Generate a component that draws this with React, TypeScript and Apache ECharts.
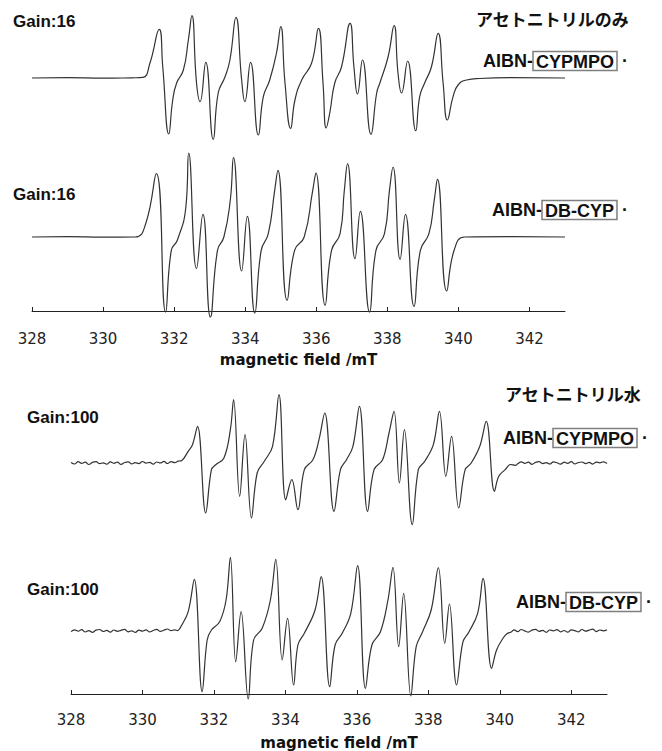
import { useEffect, useRef } from "react";
import * as echarts from "echarts";

// Field range (mT) and tick positions shared by both panels
const FIELD_MIN = 328;
const FIELD_MAX = 343;
const fieldTicks = [328, 330, 332, 334, 336, 338, 340, 342];
const axisTitle = "magnetic field /mT";

// EPR spectra: [magnetic field (mT), signal (arb. units)]
// AIBN-CYPMPO adduct in acetonitrile, gain 16
const cypmpoMeCN: [number, number][] = [
  [328.0, 0], [329.0, 0.3], [330.0, -0.2], [330.8, 0.2], [331.12, 0.6], [331.32, 15],
  [331.58, 48.7], [331.68, 11], [331.85, -56], [331.96, -22], [332.07, -5], [332.26, 8],
  [332.4, 38], [332.5, 62.3], [332.63, -5], [332.73, -23.7], [332.89, 15.7], [333.1, -61.3],
  [333.24, -15], [333.43, 1], [333.57, 18], [333.74, 60.7], [333.9, -2], [333.99, -23.7],
  [334.15, 15.7], [334.37, -57], [334.51, -18.7], [334.69, -2], [334.88, 25], [335.0, 51.3],
  [335.12, -5], [335.28, -50.3], [335.4, -22], [335.59, -2], [335.87, 15], [336.06, 49.7],
  [336.19, -5], [336.28, -50], [336.38, -35], [336.52, -5], [336.71, 11], [336.95, 54.7],
  [337.06, 11], [337.16, -16], [337.3, 18], [337.54, -56.3], [337.7, -15], [337.79, -5],
  [338.02, 21], [338.19, 52.3], [338.3, 5], [338.4, -15], [338.57, 17], [338.8, -52.7],
  [338.91, -18.7], [339.05, -5], [339.24, 11], [339.43, 44.7], [339.57, -5], [339.69, -42],
  [339.85, -18.7], [339.99, -7], [340.23, -2], [340.6, -0.5], [341.5, 0.3], [343.0, 0],
];

// AIBN-DB-CYP adduct in acetonitrile, gain 16
const dbcypMeCN: [number, number][] = [
  [328.0, 0], [329.0, 0.4], [330.0, -0.2], [330.9, 0], [331.2, 13.3], [331.5, 63.3],
  [331.76, -75], [331.92, -13.3], [332.09, -3.3], [332.33, 30], [332.41, 84], [332.63, -31.7],
  [332.81, 22.7], [333.02, -80], [333.22, -13.3], [333.4, 0], [333.58, 36.7], [333.67, 79.3],
  [333.9, -34], [334.06, 20.7], [334.27, -76], [334.45, -13.3], [334.65, 3.3], [334.83, 46.7],
  [334.92, 66.7], [335.18, -63.3], [335.39, -13.3], [335.66, 0], [335.9, 46.7], [335.99, 64],
  [336.25, -68.3], [336.43, -13.3], [336.67, 3.3], [336.79, 46.7], [336.88, 73.3], [337.09, -21.7],
  [337.24, 25.7], [337.5, -75], [337.68, -13.3], [337.92, 3.3], [338.06, 46.7], [338.16, 70],
  [338.36, -22.3], [338.51, 22.7], [338.75, -69.3], [338.93, -13.3], [339.17, 3.3], [339.32, 36.7],
  [339.41, 57.7], [339.67, -54], [339.88, -13.3], [340.18, 0], [341.5, 0.3], [343.0, 0],
];

// AIBN-CYPMPO adduct in acetonitrile / water, gain 100
const cypmpoAqMeCN: [number, number][] = [
  [328.0, 0.5], [328.1, -1.0], [328.2, 1.3], [328.3, -0.4], [328.4, 0.9], [328.5, -1.5],
  [328.6, 0.6], [328.7, 1.4], [328.8, -0.7], [328.9, 0.2], [329.0, -1.2], [329.1, 1.1],
  [329.2, -0.3], [329.3, 0.8], [329.4, -1.4], [329.5, 0.5], [329.6, 1.2], [329.7, -0.9],
  [329.8, 0.3], [329.9, -0.6], [330.0, 1.5], [330.1, -0.2], [330.2, 0.7], [330.3, -1.1],
  [330.4, 1.0], [330.5, 0.1], [330.6, 1.6], [330.7, -0.5], [330.8, 1.3], [330.9, 0.4],
  [331.0, 1.8], [331.1, 2.5], [331.28, 11.7], [331.4, 18.3], [331.54, 36.7], [331.77, -50],
  [331.93, -6.7], [332.05, -1.7], [332.28, 5], [332.46, 33.3], [332.55, 63.3], [332.72, -33.3],
  [332.87, 28.3], [333.05, -55], [333.21, -10], [333.41, 1.7], [333.64, 16.7], [333.82, 68.3],
  [334.01, -36.7], [334.18, -16.7], [334.35, -46.7], [334.53, -6.7], [334.77, 3.3], [334.94, 23.3],
  [335.1, 50], [335.36, -48.3], [335.54, -6.7], [335.71, 3.3], [335.89, 16.7], [336.07, 56.7],
  [336.3, -48.3], [336.48, -6.7], [336.72, 3.3], [336.9, 30], [337.04, 51.7], [337.19, -20],
  [337.33, 33.3], [337.55, -61.7], [337.72, -6.7], [337.9, 1.7], [338.14, 18.3], [338.31, 51.7],
  [338.49, -13.3], [338.65, 26.7], [338.85, -45], [339.03, -6.7], [339.2, 0], [339.44, 16.7],
  [339.62, 41.7], [339.85, -28.3], [339.97, -13.3], [340.15, -6.7], [340.3, -1.5], [340.44, -2.4],
  [340.5, -0.8], [340.6, 1.2], [340.7, -0.4], [340.8, 0.9], [340.9, -1.3], [341.0, 0.6],
  [341.1, 1.4], [341.2, -0.6], [341.3, 0.3], [341.4, -1.0], [341.5, 1.1], [341.6, 0.2],
  [341.7, -1.2], [341.8, 0.8], [341.9, -0.3], [342.0, 1.3], [342.1, -0.9], [342.2, 0.5],
  [342.3, 1.0], [342.4, -0.6], [342.5, 0.7], [342.6, -1.1], [342.7, 0.9], [342.8, 0.2],
  [342.9, 1.2], [343.0, -0.4],
];

// AIBN-DB-CYP adduct in acetonitrile / water, gain 100
const dbcypAqMeCN: [number, number][] = [
  [328.0, -0.6], [328.1, 1.1], [328.2, -0.2], [328.3, 1.4], [328.4, -1.0], [328.5, 0.4],
  [328.6, -1.3], [328.7, 0.9], [328.8, 1.5], [328.9, -0.5], [329.0, 0.6], [329.1, -1.2],
  [329.2, 1.0], [329.3, -0.3], [329.4, 0.7], [329.5, 1.6], [329.6, -0.8], [329.7, 0.2],
  [329.8, -1.4], [329.9, 0.9], [330.0, -0.1], [330.1, 1.2], [330.2, -0.9], [330.3, 0.5],
  [330.4, 1.7], [330.5, -0.4], [330.6, 0.8], [330.7, 2.0], [330.8, 0.3], [330.9, 1.1],
  [330.98, 0.4], [331.1, 6], [331.28, 19.3], [331.45, 51.7], [331.67, -60.7], [331.81, -9],
  [331.93, 1], [332.16, 9.3], [332.34, 31], [332.46, 73.7], [332.61, -30.7], [332.76, 19.3],
  [332.96, -68], [333.11, -9], [333.35, 2.7], [333.58, 31], [333.73, 71.7], [333.91, -29],
  [334.06, 12.7], [334.23, -54], [334.35, -14], [334.53, -2.3], [334.83, 21], [335.0, 54.3],
  [335.24, -55.7], [335.39, -14], [335.59, -2.3], [335.83, 17.7], [336.02, 65.3], [336.24, -57.3],
  [336.42, -14], [336.66, -0.7], [336.87, 31], [337.01, 63.7], [337.17, -15.7], [337.31, 37.7],
  [337.51, -65], [337.66, -15.7], [337.84, -0.7], [338.08, 21], [338.28, 63.3], [338.46, -12.3],
  [338.59, 27], [338.79, -54], [338.97, -10.7], [339.14, -0.7], [339.38, 17.7], [339.53, 52.7],
  [339.77, -37.3], [339.91, -19], [340.09, -7.3], [340.2, -2.8], [340.33, -0.7], [340.4, 1.2],
  [340.5, -0.6], [340.6, 1.5], [340.7, 0.1], [340.8, -1.1], [340.9, 0.9], [341.0, 1.6],
  [341.1, -0.4], [341.2, 0.7], [341.3, -1.3], [341.4, 1.0], [341.5, 0.2], [341.6, 1.4],
  [341.7, -0.8], [341.8, 0.5], [341.9, -1.2], [342.0, 1.1], [342.1, 0.3], [342.2, -0.9],
  [342.3, 1.5], [342.4, -0.2], [342.5, 0.8], [342.6, 1.8], [342.7, -0.6], [342.8, 1.0],
  [342.9, 0.2], [343.0, 1.3],
];

const LABEL_FONT = '"Liberation Sans", Arial, sans-serif';
const JP_FONT = '"Noto Sans CJK JP", sans-serif';
const TICK_FONT = '"DejaVu Sans", sans-serif';

const boxedLabel = (x: number, y: number, compound: string) => ({
  type: "text",
  x,
  y,
  style: {
    text: `AIBN-{b|${compound}} ·`,
    font: `bold 18px ${LABEL_FONT}`,
    fill: "#111",
    textVerticalAlign: "middle",
    rich: {
      b: {
        fontFamily: LABEL_FONT,
        fontWeight: "bold",
        fontSize: 18,
        fill: "#111",
        borderColor: "#7f7f7f",
        borderWidth: 1.5,
        padding: [1, 3, 0, 3],
      },
    },
  },
});

const plainLabel = (x: number, y: number, text: string, font: string) => ({
  type: "text",
  x,
  y,
  style: { text, font, fill: "#111", textVerticalAlign: "middle" },
});

function visibleAxis(gridIndex: number, nameGap: number) {
  return {
    type: "value",
    gridIndex,
    min: FIELD_MIN,
    max: FIELD_MAX,
    name: axisTitle,
    nameLocation: "middle",
    nameGap,
    nameTextStyle: { fontFamily: TICK_FONT, fontWeight: "bold", fontSize: 15, color: "#111" },
    axisLine: { show: true, lineStyle: { color: "#222", width: 1 } },
    axisTick: { show: true, inside: true, length: 4, customValues: fieldTicks, lineStyle: { color: "#222" } },
    axisLabel: { show: true, customValues: fieldTicks, fontFamily: TICK_FONT, fontSize: 15, color: "#222", margin: 10 },
    splitLine: { show: false },
  };
}

function hiddenAxis(gridIndex: number) {
  return { type: "value", gridIndex, min: FIELD_MIN, max: FIELD_MAX, show: false };
}

function hiddenY(gridIndex: number, range: number) {
  return { type: "value", gridIndex, min: -range, max: range, show: false };
}

function spectrum(data: [number, number][], axisIndex: number, smooth: number) {
  return {
    type: "line",
    data,
    xAxisIndex: axisIndex,
    yAxisIndex: axisIndex,
    showSymbol: false,
    smooth,
    lineStyle: { color: "#333", width: 1.2 },
    silent: true,
  };
}

export default function App() {
  const ref = useRef<HTMLDivElement>(null);

  useEffect(() => {
    if (!ref.current) return;
    const chart = echarts.init(ref.current, undefined, { renderer: "svg" });
    chart.setOption({
      animation: false,
      backgroundColor: "#fff",
      grid: [
        { left: 32, width: 533, top: 8, height: 140 },
        { left: 32, width: 533, top: 147, height: 180 },
        { left: 32, width: 533, top: 301, height: 20 },
        { left: 71, width: 536, top: 393, height: 140 },
        { left: 71, width: 536, top: 541, height: 180 },
        { left: 71, width: 536, top: 686, height: 20 },
      ],
      xAxis: [
        hiddenAxis(0),
        hiddenAxis(1),
        visibleAxis(2, 31),
        hiddenAxis(3),
        hiddenAxis(4),
        visibleAxis(5, 33),
      ],
      yAxis: [
        hiddenY(0, 70),
        hiddenY(1, 90),
        hiddenY(2, 1),
        hiddenY(3, 70),
        hiddenY(4, 90),
        hiddenY(5, 1),
      ],
      series: [
        spectrum(cypmpoMeCN, 0, 0.5),
        spectrum(dbcypMeCN, 1, 0.5),
        spectrum(cypmpoAqMeCN, 3, 0.4),
        spectrum(dbcypAqMeCN, 4, 0.4),
      ],
      graphic: [
        plainLabel(13, 21, "Gain:16", `bold 17px ${LABEL_FONT}`),
        plainLabel(476, 18, "アセトニトリルのみ", `bold 17px ${JP_FONT}`),
        boxedLabel(483, 61, "CYPMPO"),
        plainLabel(13, 194, "Gain:16", `bold 17px ${LABEL_FONT}`),
        boxedLabel(492, 210, "DB-CYP"),
        plainLabel(505, 393, "アセトニトリル水", `bold 17px ${JP_FONT}`),
        plainLabel(27, 417, "Gain:100", `bold 17px ${LABEL_FONT}`),
        boxedLabel(503, 438, "CYPMPO"),
        plainLabel(27, 589, "Gain:100", `bold 17px ${LABEL_FONT}`),
        boxedLabel(516, 602, "DB-CYP"),
      ],
    });
    return () => chart.dispose();
  }, []);

  return (
    <div
      ref={ref}
      style={{ position: "fixed", left: 0, top: 0, width: 662, height: 751, background: "#fff" }}
    />
  );
}
